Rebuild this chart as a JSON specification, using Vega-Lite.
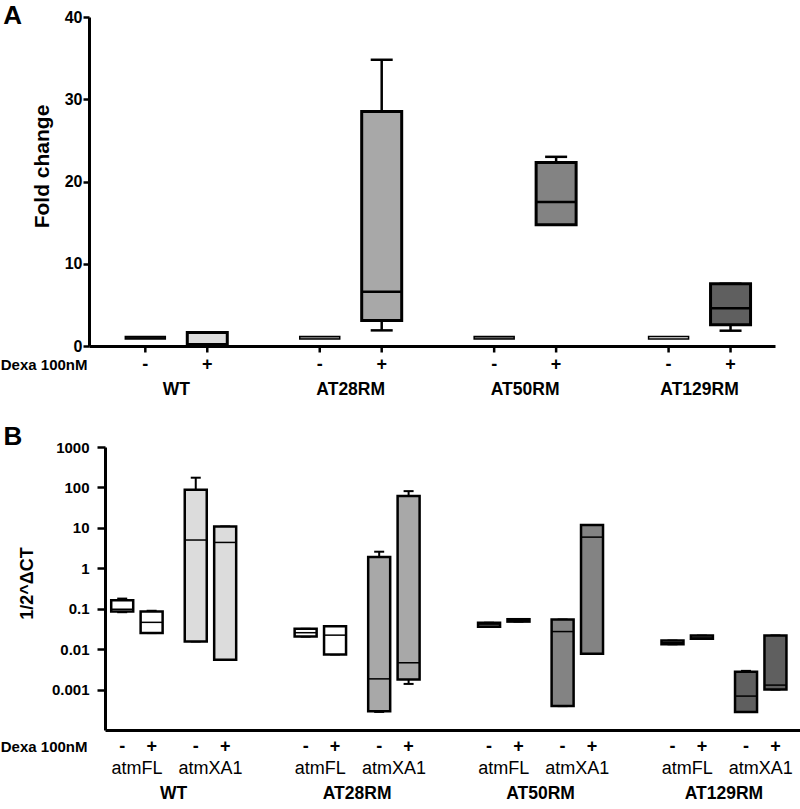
{
  "$schema": "https://vega.github.io/schema/vega-lite/v6.json",
  "padding": {"left": 0, "top": 3, "right": 0, "bottom": 0},
  "config": {
    "view": {"stroke": null},
    "font": "Liberation Sans",
    "axis": {"grid": false, "labelColor": "#000", "titleColor": "#000", "domainColor": "#000", "tickColor": "#000", "labelFontWeight": "bold", "titleFontWeight": "bold"},
    "title": {"color": "#000"}
  },
  "datasets": {
    "a": [
      {"group": "WT", "dexa": "-", "key": "WT -", "min": 1.0, "q1": 0.85, "median": 1.0, "q3": 1.15, "max": 1.0},
      {"group": "WT", "dexa": "+", "key": "WT +", "min": 0.15, "q1": 0.15, "median": 0.2, "q3": 1.65, "max": 1.65},
      {"group": "AT28RM", "dexa": "-", "key": "AT28RM -", "min": 1.0, "q1": 0.85, "median": 1.0, "q3": 1.15, "max": 1.0},
      {"group": "AT28RM", "dexa": "+", "key": "AT28RM +", "min": 1.9, "q1": 3.1, "median": 6.6, "q3": 28.5, "max": 34.8},
      {"group": "AT50RM", "dexa": "-", "key": "AT50RM -", "min": 1.0, "q1": 0.85, "median": 1.0, "q3": 1.15, "max": 1.0},
      {"group": "AT50RM", "dexa": "+", "key": "AT50RM +", "min": 14.75, "q1": 14.75, "median": 17.5, "q3": 22.3, "max": 23.0},
      {"group": "AT129RM", "dexa": "-", "key": "AT129RM -", "min": 1.0, "q1": 0.85, "median": 1.0, "q3": 1.15, "max": 1.0},
      {"group": "AT129RM", "dexa": "+", "key": "AT129RM +", "min": 1.86, "q1": 2.59, "median": 4.58, "q3": 7.57, "max": 7.57}
    ],
    "groups": [{"group": "WT"}, {"group": "AT28RM"}, {"group": "AT50RM"}, {"group": "AT129RM"}],
    "b": [
      {"group": "WT", "gene": "atmFL", "dexa": "-", "slot": "atmFL -", "min": 0.082, "q1": 0.085, "median": 0.097, "q3": 0.163, "max": 0.178},
      {"group": "WT", "gene": "atmFL", "dexa": "+", "slot": "atmFL +", "min": 0.025, "q1": 0.025, "median": 0.046, "q3": 0.085, "max": 0.089},
      {"group": "WT", "gene": "atmXA1", "dexa": "-", "slot": "atmXA1 -", "min": 0.0155, "q1": 0.0155, "median": 5.0, "q3": 88, "max": 174},
      {"group": "WT", "gene": "atmXA1", "dexa": "+", "slot": "atmXA1 +", "min": 0.0055, "q1": 0.0055, "median": 4.36, "q3": 10.8, "max": 10.8},
      {"group": "AT28RM", "gene": "atmFL", "dexa": "-", "slot": "atmFL -", "min": 0.0204, "q1": 0.0204, "median": 0.0255, "q3": 0.0318, "max": 0.0318},
      {"group": "AT28RM", "gene": "atmFL", "dexa": "+", "slot": "atmFL +", "min": 0.0074, "q1": 0.0074, "median": 0.0222, "q3": 0.037, "max": 0.037},
      {"group": "AT28RM", "gene": "atmXA1", "dexa": "-", "slot": "atmXA1 -", "min": 0.00028, "q1": 0.00029, "median": 0.00184, "q3": 1.89, "max": 2.57},
      {"group": "AT28RM", "gene": "atmXA1", "dexa": "+", "slot": "atmXA1 +", "min": 0.00138, "q1": 0.00177, "median": 0.0046, "q3": 61, "max": 81},
      {"group": "AT50RM", "gene": "atmFL", "dexa": "-", "slot": "atmFL -", "min": 0.036, "q1": 0.036, "median": 0.04, "q3": 0.045, "max": 0.045},
      {"group": "AT50RM", "gene": "atmFL", "dexa": "+", "slot": "atmFL +", "min": 0.048, "q1": 0.048, "median": 0.051, "q3": 0.055, "max": 0.055},
      {"group": "AT50RM", "gene": "atmXA1", "dexa": "-", "slot": "atmXA1 -", "min": 0.00039, "q1": 0.00039, "median": 0.0272, "q3": 0.054, "max": 0.054},
      {"group": "AT50RM", "gene": "atmXA1", "dexa": "+", "slot": "atmXA1 +", "min": 0.0077, "q1": 0.0077, "median": 5.9, "q3": 11.7, "max": 11.7},
      {"group": "AT129RM", "gene": "atmFL", "dexa": "-", "slot": "atmFL -", "min": 0.0132, "q1": 0.0132, "median": 0.0148, "q3": 0.0163, "max": 0.0163},
      {"group": "AT129RM", "gene": "atmFL", "dexa": "+", "slot": "atmFL +", "min": 0.018, "q1": 0.018, "median": 0.0198, "q3": 0.0216, "max": 0.0216},
      {"group": "AT129RM", "gene": "atmXA1", "dexa": "-", "slot": "atmXA1 -", "min": 0.00028, "q1": 0.00028, "median": 0.00069, "q3": 0.00277, "max": 0.0029},
      {"group": "AT129RM", "gene": "atmXA1", "dexa": "+", "slot": "atmXA1 +", "min": 0.001, "q1": 0.001, "median": 0.00129, "q3": 0.0218, "max": 0.0218}
    ],
    "bgene": [
      {"group": "WT", "gene": "atmFL"}, {"group": "WT", "gene": "atmXA1"},
      {"group": "AT28RM", "gene": "atmFL"}, {"group": "AT28RM", "gene": "atmXA1"},
      {"group": "AT50RM", "gene": "atmFL"}, {"group": "AT50RM", "gene": "atmXA1"},
      {"group": "AT129RM", "gene": "atmFL"}, {"group": "AT129RM", "gene": "atmXA1"}
    ]
  },
  "bounds": "full",
  "spacing": 25,
  "resolve": {"scale": {"xOffset": "independent", "fill": "independent", "strokeWidth": "independent"}},
  "vconcat": [
    {
      "bounds": "flush",
      "spacing": 0,
      "vconcat": [
        {
          "title": {"text": "A", "anchor": "start", "frame": "bounds", "fontSize": 26, "fontWeight": "bold", "dx": -28, "offset": -20},
          "width": 686,
          "height": 329,
          "data": {"name": "a"},
          "encoding": {
            "x": {"field": "group", "type": "nominal", "sort": null,
                  "scale": {"domain": ["WT", "AT28RM", "AT50RM", "AT129RM"], "paddingInner": 0.135, "paddingOuter": 0.034, "align": 1},
                  "axis": {"title": null, "labels": false, "ticks": false, "domainWidth": 3}},
            "xOffset": {"field": "dexa", "type": "nominal", "scale": {"domain": ["-", "+"], "paddingInner": 0.355, "paddingOuter": 0.395}}
          },
          "layer": [
            {"mark": {"type": "rule", "strokeWidth": 2.5, "color": "#000", "opacity": 1},
             "encoding": {
               "y": {"field": "min", "type": "quantitative", "scale": {"domain": [0, 40], "nice": false},
                     "axis": {"values": [0, 10, 20, 30, 40], "title": "Fold change", "titleFontSize": 21, "titlePadding": 12, "titleY": 149, "labelFontSize": 16, "labelPadding": 1, "tickSize": 6, "tickWidth": 2.5, "domainWidth": 3}},
               "y2": {"field": "q1"}}},
            {"mark": {"type": "rule", "strokeWidth": 2.5, "color": "#000", "opacity": 1},
             "encoding": {"y": {"field": "q3", "type": "quantitative"}, "y2": {"field": "max"}}},
            {"mark": {"type": "tick", "orient": "horizontal", "size": 22, "thickness": 2.5, "color": "#000", "opacity": 1},
             "encoding": {"y": {"field": "max", "type": "quantitative"}}},
            {"mark": {"type": "tick", "orient": "horizontal", "size": 22, "thickness": 2.5, "color": "#000", "opacity": 1},
             "encoding": {"y": {"field": "min", "type": "quantitative"}}},
            {"mark": {"type": "bar", "width": 40, "stroke": "#000", "opacity": 1},
             "encoding": {
               "y": {"field": "q1", "type": "quantitative"}, "y2": {"field": "q3"},
               "fill": {"field": "key", "type": "nominal", "legend": null,
                        "scale": {"domain": ["WT -", "WT +", "AT28RM -", "AT28RM +", "AT50RM -", "AT50RM +", "AT129RM -", "AT129RM +"],
                                  "range": ["#111111", "#dcdcdc", "#9a9a9a", "#a8a8a8", "#767676", "#838383", "#f2f2f2", "#5f5f5f"]}},
               "strokeWidth": {"field": "dexa", "type": "nominal", "legend": null, "scale": {"domain": ["-", "+"], "range": [1.5, 3]}}}},
            {"transform": [{"filter": "datum.dexa == '+'"}],
             "mark": {"type": "tick", "orient": "horizontal", "size": 40, "thickness": 2.5, "color": "#000", "opacity": 1},
             "encoding": {"y": {"field": "median", "type": "quantitative"}}}
          ]
        },
        {
          "width": 686,
          "height": 18,
          "encoding": {
            "x": {"field": "group", "type": "nominal", "sort": null,
                  "scale": {"domain": ["WT", "AT28RM", "AT50RM", "AT129RM"], "paddingInner": 0.135, "paddingOuter": 0.034, "align": 1},
                  "axis": null}
          },
          "layer": [
            {"data": {"name": "a"},
             "mark": {"type": "tick", "orient": "vertical", "size": 7, "thickness": 2.5, "color": "#000", "opacity": 1},
             "encoding": {
               "xOffset": {"field": "dexa", "type": "nominal", "scale": {"domain": ["-", "+"], "paddingInner": 0.355, "paddingOuter": 0.395}},
               "y": {"datum": "tick", "type": "nominal",
                     "scale": {"type": "band", "domain": ["tick", "dexa", "group"], "paddingInner": 0, "paddingOuter": 0},
                     "axis": {"title": null, "domain": false, "ticks": false, "tickSize": 0, "labelPadding": 2, "labelFontSize": 15, "labelOffset": 9.5,
                              "labelExpr": "datum.value == 'dexa' ? 'Dexa 100nM' : ''"}}}},
            {"data": {"name": "a"},
             "mark": {"type": "text", "fontSize": 18, "fontWeight": "bold", "dy": 9.5, "baseline": "middle", "color": "#000"},
             "encoding": {
               "xOffset": {"field": "dexa", "type": "nominal"},
               "y": {"datum": "dexa", "type": "nominal"},
               "text": {"field": "dexa"}}},
            {"data": {"name": "groups"},
             "mark": {"type": "text", "fontSize": 17.5, "fontWeight": "bold", "dy": 34, "baseline": "alphabetic", "color": "#000"},
             "encoding": {
               "y": {"datum": "group", "type": "nominal"},
               "text": {"field": "group"}}}
          ]
        }
      ]
    },
    {
      "bounds": "flush",
      "spacing": 0,
      "hconcat": [
        {"width": 16, "height": 10, "data": {"values": []}, "mark": {"type": "text"}, "encoding": {}},
        {
          "bounds": "flush",
          "spacing": 0,
          "vconcat": [
            {
              "title": {"text": "B", "anchor": "start", "frame": "bounds", "fontSize": 26, "fontWeight": "bold", "dx": -15, "offset": -10},
              "width": 695,
              "height": 283,
              "data": {"name": "b"},
              "encoding": {
                "x": {"field": "group", "type": "nominal", "sort": null,
                      "scale": {"domain": ["WT", "AT28RM", "AT50RM", "AT129RM"], "paddingInner": 0.251, "paddingOuter": 0.02, "align": 0},
                      "axis": {"title": null, "labels": false, "ticks": false, "domainWidth": 3}},
                "xOffset": {"field": "slot", "type": "nominal",
                            "scale": {"domain": ["atmFL -", "atmFL", "atmFL +", "g1", "g2", "atmXA1 -", "atmXA1", "atmXA1 +"], "paddingInner": 0, "paddingOuter": 0.67}}
              },
              "layer": [
                {"mark": {"type": "rule", "strokeWidth": 2, "color": "#000", "opacity": 1},
                 "encoding": {
                   "y": {"field": "min", "type": "quantitative", "scale": {"type": "log", "domain": [0.0001, 1000], "nice": false},
                         "axis": {"values": [0.001, 0.01, 0.1, 1, 10, 100, 1000], "format": "~g", "title": "1/2^ΔCT", "titleFontSize": 18, "titlePadding": 15, "titleY": 136, "labelFontSize": 15, "labelPadding": 8, "tickSize": 8, "tickWidth": 2.5, "domainWidth": 3}},
                   "y2": {"field": "q1"}}},
                {"mark": {"type": "rule", "strokeWidth": 2, "color": "#000", "opacity": 1},
                 "encoding": {"y": {"field": "q3", "type": "quantitative"}, "y2": {"field": "max"}}},
                {"mark": {"type": "tick", "orient": "horizontal", "size": 10, "thickness": 2, "color": "#000", "opacity": 1},
                 "encoding": {"y": {"field": "max", "type": "quantitative"}}},
                {"mark": {"type": "tick", "orient": "horizontal", "size": 10, "thickness": 2, "color": "#000", "opacity": 1},
                 "encoding": {"y": {"field": "min", "type": "quantitative"}}},
                {"mark": {"type": "bar", "width": 22, "stroke": "#000", "strokeWidth": 2.5, "opacity": 1},
                 "encoding": {
                   "y": {"field": "q1", "type": "quantitative"}, "y2": {"field": "q3"},
                   "fill": {"condition": {"test": "datum.gene == 'atmFL'", "value": "#ffffff"},
                            "field": "group", "type": "nominal", "legend": null,
                            "scale": {"domain": ["WT", "AT28RM", "AT50RM", "AT129RM"], "range": ["#dcdcdc", "#a8a8a8", "#838383", "#5f5f5f"]}}}},
                {"mark": {"type": "tick", "orient": "horizontal", "size": 22, "thickness": 1.5, "color": "#000", "opacity": 1},
                 "encoding": {"y": {"field": "median", "type": "quantitative"}}}
              ]
            },
            {
              "width": 695,
              "height": 69,
              "encoding": {
                "x": {"field": "group", "type": "nominal", "sort": null,
                      "scale": {"domain": ["WT", "AT28RM", "AT50RM", "AT129RM"], "paddingInner": 0.251, "paddingOuter": 0.02, "align": 0},
                      "axis": null}
              },
              "layer": [
                {"data": {"name": "b"},
                 "mark": {"type": "text", "fontSize": 18, "fontWeight": "bold", "dy": 5, "baseline": "middle", "color": "#000"},
                 "encoding": {
                   "xOffset": {"field": "slot", "type": "nominal",
                               "scale": {"domain": ["atmFL -", "atmFL", "atmFL +", "g1", "g2", "atmXA1 -", "atmXA1", "atmXA1 +"], "paddingInner": 0, "paddingOuter": 0.67}},
                   "y": {"datum": "dexa", "type": "nominal",
                         "scale": {"type": "band", "domain": ["dexa", "gene", "group"], "paddingInner": 0, "paddingOuter": 0},
                         "axis": {"title": null, "domain": false, "ticks": false, "tickSize": 0, "labelPadding": 18, "labelFontSize": 15, "labelOffset": 5,
                                  "labelExpr": "datum.value == 'dexa' ? 'Dexa 100nM' : ''"}},
                   "text": {"field": "dexa"}}},
                {"data": {"name": "bgene"},
                 "mark": {"type": "text", "fontSize": 18, "fontWeight": "normal", "dy": 4, "baseline": "middle", "color": "#000"},
                 "encoding": {
                   "xOffset": {"field": "gene", "type": "nominal"},
                   "y": {"datum": "gene", "type": "nominal"},
                   "text": {"field": "gene"}}},
                {"data": {"name": "groups"},
                 "mark": {"type": "text", "fontSize": 17.5, "fontWeight": "bold", "dy": 6, "baseline": "middle", "color": "#000"},
                 "encoding": {
                   "y": {"datum": "group", "type": "nominal"},
                   "text": {"field": "group"}}}
              ]
            }
          ]
        }
      ]
    }
  ]
}
